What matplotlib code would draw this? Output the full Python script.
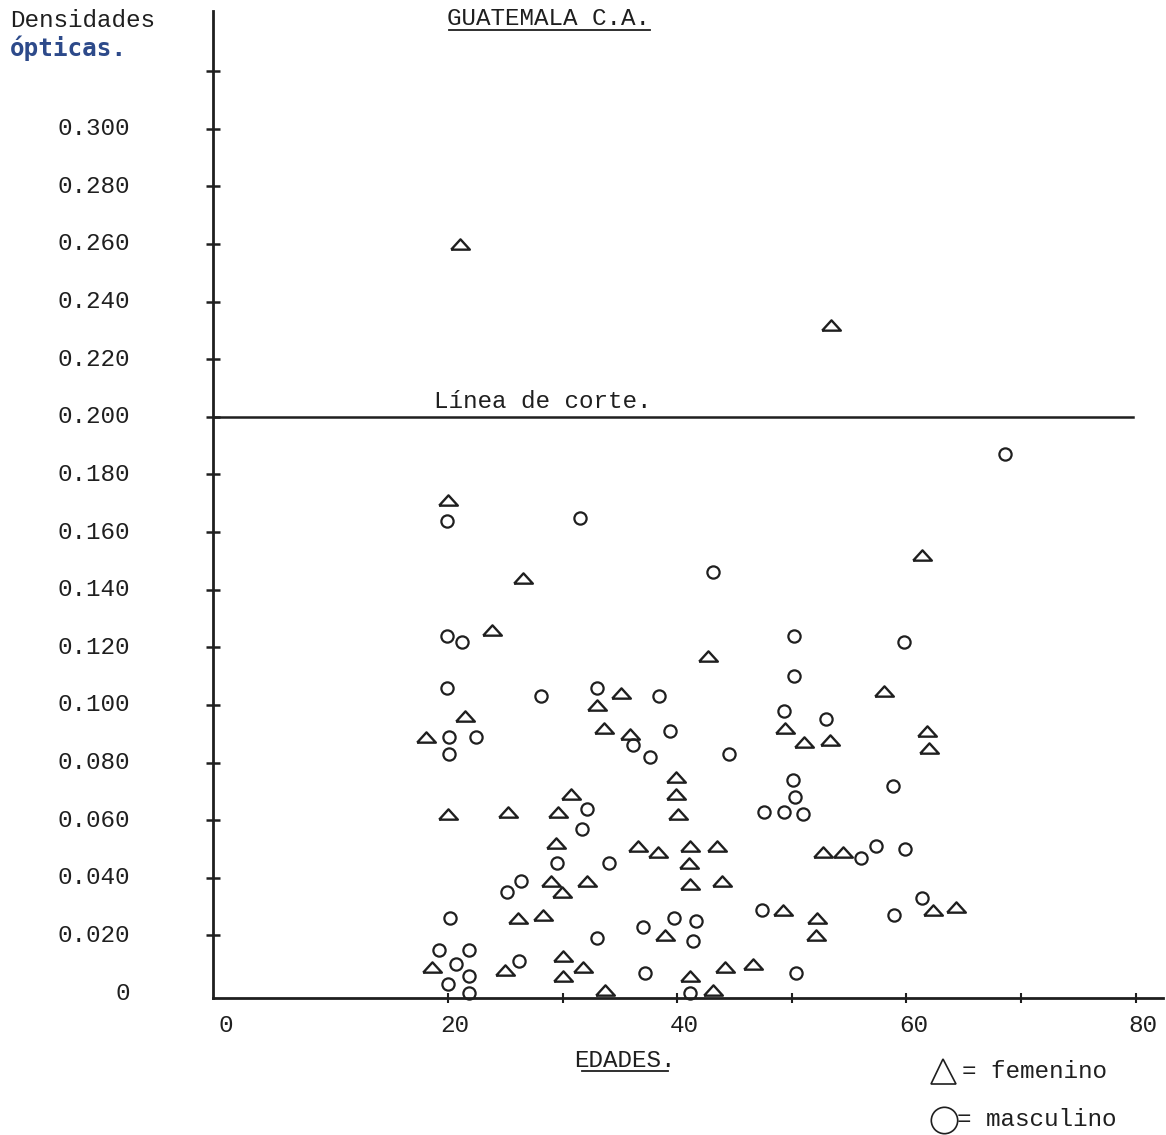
import matplotlib
matplotlib.use("Agg")
import matplotlib.pyplot as plt
from matplotlib.lines import Line2D

# Edad (años) y densidad óptica, sexo femenino
fem_edad = [21.0, 53.4, 20.0, 26.5, 23.8, 61.4, 42.7, 58.0, 21.5, 35.1,
            33.0, 33.6, 18.1, 35.9, 49.4, 51.1, 53.3, 61.8, 62.0, 39.9,
            39.9, 40.1, 30.7, 20.0, 25.2, 29.6, 36.6, 38.3, 41.1, 43.5,
            29.4, 41.0, 29.0, 32.1, 41.1, 43.9, 29.9, 52.7, 54.5, 26.1,
            28.3, 49.2, 38.9, 52.2, 52.1, 62.3, 64.3, 30.0, 18.6, 25.0,
            31.8, 30.0, 44.2, 46.6, 41.1, 33.7, 43.1]
fem_do = [0.260, 0.232, 0.171, 0.144, 0.126, 0.152, 0.117, 0.105, 0.096, 0.104,
          0.100, 0.092, 0.089, 0.090, 0.092, 0.087, 0.088, 0.091, 0.085, 0.075,
          0.069, 0.062, 0.069, 0.062, 0.063, 0.063, 0.051, 0.049, 0.051, 0.051,
          0.052, 0.045, 0.039, 0.039, 0.038, 0.039, 0.035, 0.049, 0.049, 0.026,
          0.027, 0.029, 0.020, 0.026, 0.020, 0.029, 0.030, 0.013, 0.009, 0.008,
          0.009, 0.006, 0.009, 0.010, 0.006, 0.001, 0.001]

# Edad (años) y densidad óptica, sexo masculino
masc_edad = [19.9, 31.5, 43.1, 19.9, 21.2, 50.2, 59.8, 50.2, 19.9, 28.1,
             33.0, 38.4, 49.3, 53.0, 20.1, 22.4, 20.1, 39.4, 36.1, 37.6,
             44.5, 32.1, 31.7, 50.1, 50.3, 47.6, 49.3, 51.0, 58.8, 68.6,
             29.5, 34.0, 26.4, 25.1, 20.2, 33.0, 19.2, 21.8, 20.7, 26.2,
             21.8, 20.0, 21.8, 39.7, 41.6, 37.0, 41.4, 47.4, 37.2, 50.4,
             41.1, 56.0, 57.3, 59.9, 61.4, 58.9]
masc_do = [0.164, 0.165, 0.146, 0.124, 0.122, 0.124, 0.122, 0.110, 0.106, 0.103,
           0.106, 0.103, 0.098, 0.095, 0.089, 0.089, 0.083, 0.091, 0.086, 0.082,
           0.083, 0.064, 0.057, 0.074, 0.068, 0.063, 0.063, 0.062, 0.072, 0.187,
           0.045, 0.045, 0.039, 0.035, 0.026, 0.019, 0.015, 0.015, 0.010, 0.011,
           0.006, 0.003, 0.000, 0.026, 0.025, 0.023, 0.018, 0.029, 0.007, 0.007,
           0.000, 0.047, 0.051, 0.050, 0.033, 0.027]

y_ticks = [0.00, 0.02, 0.04, 0.06, 0.08, 0.10, 0.12, 0.14, 0.16, 0.18,
           0.20, 0.22, 0.24, 0.26, 0.28, 0.30]
y_labels = ["0", "0.020", "0.040", "0.060", "0.080", "0.100", "0.120", "0.140",
            "0.160", "0.180", "0.200", "0.220", "0.240", "0.260", "0.280", "0.300"]
y_marks = [0.02, 0.04, 0.06, 0.08, 0.10, 0.12, 0.14, 0.16, 0.18,
           0.20, 0.22, 0.24, 0.26, 0.28, 0.30, 0.32]
x_labels = [0, 20, 40, 60, 80]
x_marks = [20, 30, 40, 50, 60, 70, 80]
corte = 0.200

INK = "#1f1f1f"
MONO = "Liberation Mono"
FS = 17.5

fig = plt.figure(figsize=(11.66, 11.35), dpi=100)
fig.patch.set_facecolor("white")
ax = fig.add_axes([0.1827, 0.1207, 0.8148, 0.8700])
ax.set_xlim(-0.52, 82.4)
ax.set_ylim(-0.0017, 0.3410)

for side in ("top", "right"):
    ax.spines[side].set_visible(False)
for side in ("left", "bottom"):
    ax.spines[side].set_color(INK)
    ax.spines[side].set_linewidth(2.0)

ax.set_yticks(y_marks)
ax.set_yticklabels([])
ax.tick_params(axis="y", direction="inout", length=10, width=1.8, color=INK)
ax.set_xticks(x_marks)
ax.set_xticklabels([])
ax.tick_params(axis="x", direction="inout", length=7, width=1.5, color=INK)

ytr = ax.get_yaxis_transform()
for v, lab in zip(y_ticks, y_labels):
    ax.text(-0.087, v, lab, transform=ytr, ha="right", va="center",
            family=MONO, fontsize=FS, color=INK, clip_on=False)

xtr = ax.get_xaxis_transform()
for v in x_labels:
    ax.text(v + 0.6, -0.028, str(v), transform=xtr, ha="center", va="center",
            family=MONO, fontsize=FS, color=INK, clip_on=False)

# Línea de corte
ax.axhline(corte, xmin=0, xmax=0.968, color=INK, lw=1.8)
ax.text(28.3, corte + 0.0012, "Línea de corte.", ha="center", va="bottom",
        family=MONO, fontsize=FS, color=INK)

tri = [(-1.0, -0.55), (1.0, -0.55), (0.0, 0.55), (-1.0, -0.55)]
ax.plot(fem_edad, fem_do, linestyle="none", marker=tri, markersize=13.5,
        markerfacecolor="none", markeredgecolor=INK, markeredgewidth=1.7,
        clip_on=False)
ax.plot(masc_edad, masc_do, linestyle="none", marker="o", markersize=8.8,
        markerfacecolor="none", markeredgecolor=INK, markeredgewidth=1.6,
        clip_on=False)

# Textos de la figura
fig.text(0.0086, 0.982, "Densidades", ha="left", va="center",
         family=MONO, fontsize=FS, color=INK)
fig.text(0.0086, 0.9575, "ópticas.", ha="left", va="center",
         family="DejaVu Sans Mono", fontweight="bold", fontsize=17.5,
         color="#2d4a8a")
fig.text(0.470, 0.984, "GUATEMALA C.A.", ha="center", va="center",
         family=MONO, fontsize=FS, color=INK)
fig.add_artist(Line2D([449 / 1166, 650 / 1166], [1 - 30 / 1135, 1 - 30 / 1135],
                      color=INK, lw=1.3))
fig.text(0.536, 0.066, "EDADES.", ha="center", va="center",
         family=MONO, fontsize=FS, color=INK)
fig.add_artist(Line2D([582 / 1166, 668 / 1166], [1 - 1071 / 1135, 1 - 1071 / 1135],
                      color=INK, lw=1.3))

# Leyenda
fig.add_artist(Line2D([943 / 1166], [1 - 1071 / 1135], marker="^", markersize=18,
                      markerfacecolor="none", markeredgecolor=INK,
                      markeredgewidth=1.2, linestyle="none"))
fig.text(962 / 1166, 1 - 1071 / 1135, "= femenino", ha="left", va="center",
         family=MONO, fontsize=FS, color=INK)
fig.add_artist(Line2D([944 / 1166], [1 - 1120 / 1135], marker="o", markersize=19,
                      markerfacecolor="none", markeredgecolor=INK,
                      markeredgewidth=1.2, linestyle="none"))
fig.text(957 / 1166, 1 - 1120 / 1135, "= masculino", ha="left", va="center",
         family=MONO, fontsize=FS, color=INK)

fig.savefig("out.png", dpi=100, facecolor="white")
